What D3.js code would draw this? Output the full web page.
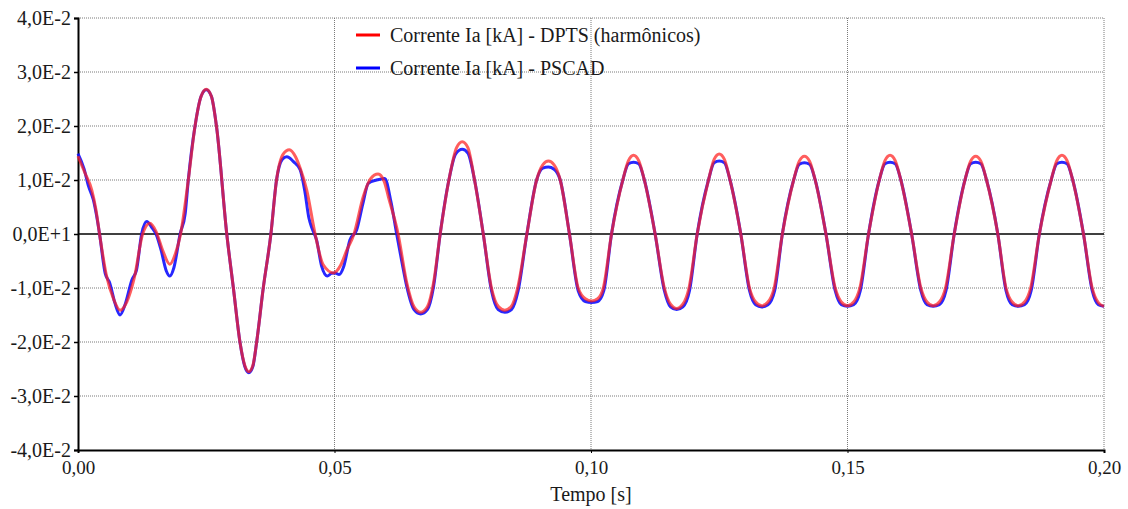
<!DOCTYPE html>
<html>
<head>
<meta charset="utf-8">
<script src="https://cdn.jsdelivr.net/npm/d3@7/dist/d3.min.js"></script>
<style>
  html, body { margin: 0; padding: 0; background: #fff; }
  svg { display: block; }
  svg text { font-family: "Liberation Serif", "Times New Roman", serif !important; fill: #1a1a1a; }
</style>
</head>
<body>
<svg id="chart" width="1128" height="509"></svg>
<script>
// ---------------- data ----------------
const seriesNames = ["Corrente Ia [kA] - DPTS (harmônicos)", "Corrente Ia [kA] - PSCAD"];
const xTickValues = [0, 0.05, 0.10, 0.15, 0.20];
const xTickLabels = ["0,00", "0,05", "0,10", "0,15", "0,20"];
const yTickValues = [-0.04, -0.03, -0.02, -0.01, 0, 0.01, 0.02, 0.03, 0.04];
const yTickLabels = ["-4,0E-2", "-3,0E-2", "-2,0E-2", "-1,0E-2", "0,0E+1", "1,0E-2", "2,0E-2", "3,0E-2", "4,0E-2"];
const xTitle = "Tempo [s]";

// [tempo (s), corrente (kA)]
const dptsPoints = [
  [0.0000, 0.0144], [0.0014, 0.0112], [0.0027, 0.0081], [0.0035, 0.0045], [0.0042, 0.0000],
  [0.0055, -0.0075], [0.0070, -0.0122], [0.0082, -0.0141], [0.0095, -0.0126], [0.0110, -0.0080],
  [0.0126, 0.0000], [0.0140, 0.0020], [0.0152, 0.0005], [0.0165, -0.0030], [0.0179, -0.0056],
  [0.0190, -0.0036], [0.0200, 0.0000], [0.0215, 0.0100], [0.0228, 0.0199], [0.0240, 0.0255],
  [0.0250, 0.0268], [0.0260, 0.0255], [0.0270, 0.0199], [0.0290, 0.0000], [0.0303, -0.0101],
  [0.0316, -0.0202], [0.0325, -0.0243], [0.0333, -0.0255], [0.0341, -0.0243], [0.0348, -0.0202],
  [0.0361, -0.0101], [0.0376, 0.0000], [0.0387, 0.0100], [0.0400, 0.0148], [0.0412, 0.0156],
  [0.0424, 0.0143], [0.0433, 0.0122], [0.0446, 0.0081], [0.0462, 0.0001], [0.0478, -0.0057],
  [0.0498, -0.0072], [0.0512, -0.0058], [0.0524, -0.0030], [0.0538, 0.0000], [0.0556, 0.0069],
  [0.0570, 0.0102], [0.0585, 0.0111], [0.0597, 0.0097], [0.0605, 0.0069], [0.0624, 0.0000],
  [0.0641, -0.0091], [0.0655, -0.0135], [0.0668, -0.0145], [0.0681, -0.0135], [0.0693, -0.0091],
  [0.0706, 0.0000], [0.0723, 0.0100], [0.0738, 0.0160], [0.0749, 0.0171], [0.0760, 0.0160],
  [0.0773, 0.0100], [0.0790, 0.0000], [0.0806, -0.0100], [0.0820, -0.0135], [0.0832, -0.0141],
  [0.0844, -0.0135], [0.0857, -0.0100], [0.0875, 0.0000], [0.0894, 0.0100], [0.0906, 0.0128],
  [0.0917, 0.0135], [0.0928, 0.0128], [0.0940, 0.0100], [0.0958, 0.0000], [0.0975, -0.0100],
  [0.0989, -0.0120], [0.1001, -0.0124], [0.1013, -0.0120], [0.1024, -0.0100], [0.1040, 0.0000],
  [0.1062, 0.0100], [0.1073, 0.0136], [0.1083, 0.0146], [0.1093, 0.0136], [0.1104, 0.0100],
  [0.1125, 0.0000], [0.1143, -0.0100], [0.1155, -0.0130], [0.1167, -0.0138], [0.1179, -0.0130],
  [0.1191, -0.0100], [0.1207, 0.0000], [0.1229, 0.0100], [0.1240, 0.0138], [0.1250, 0.0148],
  [0.1260, 0.0138], [0.1271, 0.0100], [0.1292, 0.0000], [0.1309, -0.0100], [0.1321, -0.0126],
  [0.1333, -0.0133], [0.1345, -0.0126], [0.1357, -0.0100], [0.1373, 0.0000], [0.1395, 0.0100],
  [0.1406, 0.0135], [0.1416, 0.0144], [0.1426, 0.0135], [0.1437, 0.0100], [0.1458, 0.0000],
  [0.1476, -0.0100], [0.1488, -0.0126], [0.1500, -0.0133], [0.1512, -0.0126], [0.1524, -0.0100],
  [0.1541, 0.0000], [0.1562, 0.0100], [0.1573, 0.0136], [0.1583, 0.0146], [0.1593, 0.0136],
  [0.1604, 0.0100], [0.1625, 0.0000], [0.1643, -0.0100], [0.1655, -0.0126], [0.1667, -0.0133],
  [0.1679, -0.0126], [0.1691, -0.0100], [0.1708, 0.0000], [0.1729, 0.0100], [0.1740, 0.0135],
  [0.1750, 0.0144], [0.1760, 0.0135], [0.1771, 0.0100], [0.1793, 0.0000], [0.1809, -0.0100],
  [0.1821, -0.0126], [0.1833, -0.0133], [0.1845, -0.0126], [0.1857, -0.0100], [0.1874, 0.0000],
  [0.1897, 0.0100], [0.1908, 0.0136], [0.1918, 0.0146], [0.1928, 0.0136], [0.1939, 0.0100],
  [0.1960, 0.0000], [0.1977, -0.0100], [0.1989, -0.0127], [0.2000, -0.0134]
];

const pscadPoints = [
  [0.0000, 0.0149], [0.0012, 0.0120], [0.0020, 0.0090], [0.0030, 0.0063], [0.0036, 0.0035],
  [0.0042, 0.0000], [0.0053, -0.0073], [0.0062, -0.0091], [0.0072, -0.0128], [0.0082, -0.0150],
  [0.0092, -0.0130], [0.0105, -0.0085], [0.0114, -0.0067], [0.0124, 0.0000], [0.0134, 0.0023],
  [0.0144, 0.0012], [0.0153, -0.0002], [0.0162, -0.0030], [0.0172, -0.0068], [0.0179, -0.0078],
  [0.0187, -0.0062], [0.0199, 0.0000], [0.0209, 0.0038], [0.0215, 0.0100], [0.0228, 0.0199],
  [0.0240, 0.0255], [0.0250, 0.0267], [0.0260, 0.0255], [0.0270, 0.0199], [0.0290, 0.0000],
  [0.0303, -0.0101], [0.0316, -0.0202], [0.0325, -0.0245], [0.0333, -0.0257], [0.0341, -0.0245],
  [0.0348, -0.0202], [0.0361, -0.0101], [0.0376, 0.0000], [0.0387, 0.0100], [0.0398, 0.0138],
  [0.0407, 0.0143], [0.0420, 0.0134], [0.0433, 0.0119], [0.0442, 0.0080], [0.0450, 0.0030],
  [0.0456, 0.0011], [0.0465, -0.0011], [0.0475, -0.0060], [0.0486, -0.0078], [0.0494, -0.0073],
  [0.0501, -0.0072], [0.0509, -0.0075], [0.0518, -0.0060], [0.0530, -0.0011], [0.0543, 0.0007],
  [0.0555, 0.0055], [0.0566, 0.0094], [0.0582, 0.0100], [0.0598, 0.0103], [0.0610, 0.0060],
  [0.0621, 0.0001], [0.0631, -0.0050], [0.0641, -0.0098], [0.0655, -0.0140], [0.0668, -0.0148],
  [0.0681, -0.0140], [0.0693, -0.0098], [0.0706, 0.0000], [0.0723, 0.0100], [0.0736, 0.0148],
  [0.0749, 0.0157], [0.0760, 0.0150], [0.0773, 0.0100], [0.0790, 0.0000], [0.0806, -0.0105],
  [0.0819, -0.0140], [0.0832, -0.0145], [0.0845, -0.0140], [0.0858, -0.0105], [0.0875, 0.0000],
  [0.0894, 0.0100], [0.0906, 0.0122], [0.0917, 0.0124], [0.0928, 0.0120], [0.0940, 0.0100],
  [0.0958, 0.0000], [0.0975, -0.0105], [0.0989, -0.0125], [0.1001, -0.0127], [0.1013, -0.0125],
  [0.1025, -0.0105], [0.1040, 0.0000], [0.1062, 0.0100], [0.1073, 0.0130], [0.1083, 0.0133],
  [0.1093, 0.0130], [0.1104, 0.0100], [0.1125, 0.0000], [0.1143, -0.0105], [0.1155, -0.0135],
  [0.1167, -0.0140], [0.1179, -0.0135], [0.1192, -0.0105], [0.1207, 0.0000], [0.1229, 0.0100],
  [0.1240, 0.0132], [0.1250, 0.0135], [0.1260, 0.0132], [0.1271, 0.0100], [0.1292, 0.0000],
  [0.1309, -0.0105], [0.1321, -0.0131], [0.1333, -0.0135], [0.1345, -0.0131], [0.1358, -0.0105],
  [0.1373, 0.0000], [0.1395, 0.0100], [0.1406, 0.0129], [0.1416, 0.0132], [0.1426, 0.0129],
  [0.1437, 0.0100], [0.1458, 0.0000], [0.1476, -0.0105], [0.1488, -0.0131], [0.1500, -0.0134],
  [0.1512, -0.0131], [0.1525, -0.0105], [0.1541, 0.0000], [0.1562, 0.0100], [0.1573, 0.0130],
  [0.1583, 0.0133], [0.1593, 0.0130], [0.1604, 0.0100], [0.1625, 0.0000], [0.1643, -0.0105],
  [0.1655, -0.0131], [0.1667, -0.0134], [0.1679, -0.0131], [0.1692, -0.0105], [0.1708, 0.0000],
  [0.1729, 0.0100], [0.1740, 0.0130], [0.1750, 0.0133], [0.1760, 0.0130], [0.1771, 0.0100],
  [0.1793, 0.0000], [0.1809, -0.0105], [0.1821, -0.0131], [0.1833, -0.0134], [0.1845, -0.0131],
  [0.1858, -0.0105], [0.1874, 0.0000], [0.1897, 0.0100], [0.1908, 0.0130], [0.1918, 0.0133],
  [0.1928, 0.0130], [0.1939, 0.0100], [0.1960, 0.0000], [0.1977, -0.0105], [0.1989, -0.0131],
  [0.2000, -0.0134]
];

// ---------------- layout ----------------
const FONT = "'Liberation Serif', 'Times New Roman', serif";
const svg = d3.select("#chart").attr("font-family", FONT);
const plotLeft = 78, plotRight = 1104, plotTop = 18, plotBottom = 450;

const x = d3.scaleLinear().domain([0, 0.2]).range([plotLeft, plotRight]);
const y = d3.scaleLinear().domain([-0.04, 0.04]).range([plotBottom, plotTop]);

// grid
const grid = svg.append("g");
grid.selectAll("line.h").data(yTickValues.filter(v => v !== 0 && v !== -0.04)).enter()
  .append("line")
  .attr("x1", plotLeft).attr("x2", plotRight)
  .attr("y1", d => y(d)).attr("y2", d => y(d))
  .attr("stroke", "#7a7a7a").attr("stroke-width", 1).attr("stroke-dasharray", "1,1");
grid.selectAll("line.v").data(xTickValues.filter(v => v !== 0)).enter()
  .append("line")
  .attr("y1", plotTop).attr("y2", plotBottom)
  .attr("x1", d => x(d)).attr("x2", d => x(d))
  .attr("stroke", "#7a7a7a").attr("stroke-width", 1).attr("stroke-dasharray", "1,1");

// zero line
svg.append("line")
  .attr("x1", plotLeft).attr("x2", plotRight)
  .attr("y1", y(0)).attr("y2", y(0))
  .attr("stroke", "#000").attr("stroke-width", 1.3);

// axes
const yAxis = d3.axisLeft(y).tickValues(yTickValues)
  .tickFormat((d, i) => yTickLabels[i]).tickSize(4).tickPadding(3);
const gy = svg.append("g").attr("transform", `translate(${plotLeft},0)`).call(yAxis)
  .attr("font-family", FONT).attr("font-size", 20);
gy.select(".domain").attr("stroke", "#000").attr("stroke-width", 2);
gy.selectAll(".tick line").attr("stroke", "#000").attr("stroke-width", 1.5);
gy.selectAll(".tick text").attr("fill", "#1a1a1a");

const xAxis = d3.axisBottom(x).tickValues(xTickValues)
  .tickFormat((d, i) => xTickLabels[i]).tickSize(3).tickPadding(8);
const gx = svg.append("g").attr("transform", `translate(0,${plotBottom})`).call(xAxis)
  .attr("font-family", FONT).attr("font-size", 19);
gx.select(".domain").attr("stroke", "#000").attr("stroke-width", 2);
gx.selectAll(".tick line").attr("stroke", "#000");
gx.selectAll(".tick text").attr("fill", "#1a1a1a");

svg.append("text")
  .attr("x", (plotLeft + plotRight) / 2).attr("y", 501)
  .attr("text-anchor", "middle")
  .attr("font-size", 20)
  .text(xTitle);

// lines
const line = d3.line()
  .x(d => x(d[0])).y(d => y(d[1]))
  .curve(d3.curveMonotoneX);

svg.append("path").datum(pscadPoints)
  .attr("fill", "none").attr("stroke", "#1010ff").attr("stroke-opacity", 0.9)
  .attr("stroke-width", 3).attr("d", line);
svg.append("path").datum(dptsPoints)
  .attr("fill", "none").attr("stroke", "#ff2020").attr("stroke-opacity", 0.72)
  .attr("stroke-width", 3).attr("d", line);

// legend
const legendColors = ["#ff0000", "#0000ff"];
const lg = svg.append("g");
seriesNames.forEach((name, i) => {
  const ly = 35 + i * 33;
  lg.append("line").attr("x1", 356).attr("x2", 380).attr("y1", ly).attr("y2", ly)
    .attr("stroke", legendColors[i]).attr("stroke-width", 3);
  lg.append("text").attr("x", 390).attr("y", ly + 7)
    .attr("font-size", 20).text(name);
});
</script>
</body>
</html>
